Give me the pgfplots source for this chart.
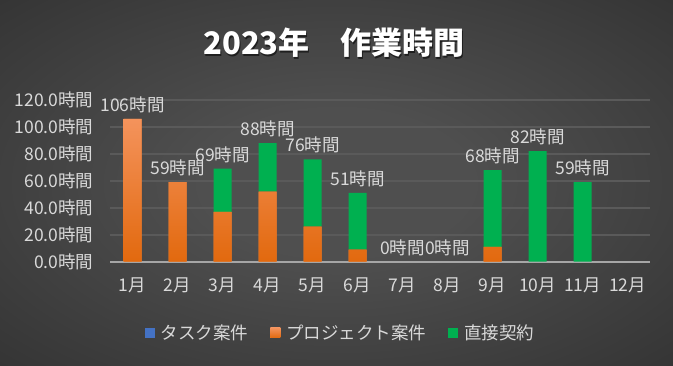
\documentclass[border=0pt]{standalone}
\usepackage{pgfplots}
\pgfplotsset{compat=1.18}
\usepackage{pgfplotstable}
\usepackage{fontspec}
\setmainfont{Noto Sans CJK JP}
\definecolor{bgin}{HTML}{4F4F4F}
\definecolor{bgout}{HTML}{262626}
\definecolor{txt}{HTML}{D9D9D9}
\definecolor{grid}{HTML}{5A5A5A}
\definecolor{axisc}{HTML}{A6A6A6}
\definecolor{taskc}{HTML}{4472C4}
\definecolor{projtop}{HTML}{F4935C}
\definecolor{projbot}{HTML}{E2690E}
\definecolor{projc}{HTML}{F07F32}
\definecolor{directc}{HTML}{00B050}
\pgfdeclareradialshading{bgshade}{\pgfpoint{0bp}{0bp}}{color(0bp)=(bgin); color(10bp)=(bgin); color(50bp)=(bgout); color(72bp)=(bgout)}
\pgfplotstableread{
x task proj direct total
1 0 106 0 106
2 0 59 0 59
3 0 37 32 69
4 0 52 36 88
5 0 26 50 76
6 0 9 42 51
7 0 0 0 0
8 0 0 0 0
9 0 11 57 68
10 0 0 82 82
11 0 0 59 59
}\datatable
\pgfplotsset{
  common/.style={
    at={(110pt,104.3pt)}, anchor=south west,
    scale only axis, width=540pt, height=161.7pt,
    xmin=0.5, xmax=12.5, ymin=0, ymax=120,
    clip=false,
  }
}
\begin{document}
\begin{tikzpicture}
\shade[shading=bgshade] (0pt,0pt) rectangle (673pt,366pt);
\node[text=black, opacity=0.55, font=\fontsize{31}{36}\selectfont\bfseries] at (335pt,321.5pt) {2023年　作業時間};
\node[text=white, font=\fontsize{31}{36}\selectfont\bfseries] at (334pt,323pt) {2023年　作業時間};
\begin{axis}[common,
  ybar stacked, bar width=18pt,
  axis line style={draw=none},
  ymajorgrids, grid style={draw=grid, line width=1.6pt},
  ytick={20,40,...,120},
  yticklabels={20.0時間,40.0時間,60.0時間,80.0時間,100.0時間,120.0時間},
  extra y ticks={0},
  extra y tick labels={0.0時間},
  extra y tick style={grid style={draw=axisc, line width=2pt}},
  xtick={1,...,12},
  xticklabels={1月,2月,3月,4月,5月,6月,7月,8月,9月,10月,11月,12月},
  major tick length=0pt, tick style={draw=none},
  tick label style={text=txt, font=\fontsize{17.5}{20}\selectfont},
  yticklabel style={xshift=-13pt},
  xticklabel style={yshift=-12pt},
  legend columns=3,
  legend style={at={(0.427,-0.44)}, anchor=center, draw=none, fill=none,
    text=txt, font=\fontsize{17.5}{20}\selectfont,
    /tikz/every even column/.append style={column sep=20pt}},
  legend image code/.code={\fill[#1] (0pt,-5pt) rectangle (10pt,5pt);},
  legend style={/tikz/every odd column/.append style={column sep=4pt}},
]
\addplot[draw=none, fill=taskc] table[x=x, y=task] {\datatable};
\addlegendentry{タスク案件}
\addplot[draw=none, fill=projc, top color=projtop, bottom color=projbot] table[x=x, y=proj] {\datatable};
\addlegendentry{プロジェクト案件}
\addplot[draw=none, fill=directc] table[x=x, y=direct] {\datatable};
\addlegendentry{直接契約}
\end{axis}
\begin{axis}[common, axis lines=none,
  /pgf/number format/assume math mode=true]
\addplot[only marks, mark=none,
  nodes near coords={\pgfmathprintnumber[fixed,precision=0]{\pgfplotspointmeta}時間},
  every node near coord/.append style={text=txt, font=\fontsize{17.5}{20}\selectfont, anchor=south, yshift=2.5pt}
  ] table[x=x, y=total] {\datatable};
\end{axis}
\end{tikzpicture}
\end{document}
